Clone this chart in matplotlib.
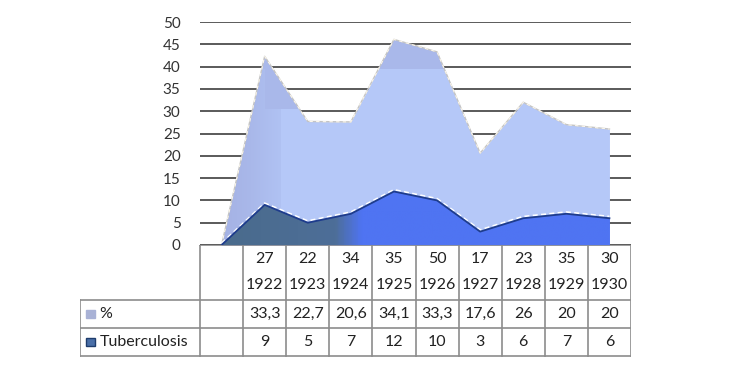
import numpy as np
import matplotlib.pyplot as plt
from matplotlib.colors import LinearSegmentedColormap

plt.rcParams['font.family'] = ['Lato', 'DejaVu Sans']

# categories (first column of the table is empty)
counts = ['', '27', '22', '34', '35', '50', '17', '23', '35', '30']
years = ['', '1922', '1923', '1924', '1925', '1926', '1927', '1928', '1929', '1930']
pct_labels = ['', '33,3', '22,7', '20,6', '34,1', '33,3', '17,6', '26', '20', '20']
tub_labels = ['', '9', '5', '7', '12', '10', '3', '6', '7', '6']
pct = [0, 33.3, 22.7, 20.6, 34.1, 33.3, 17.6, 26, 20, 20]
tub = [0, 9, 5, 7, 12, 10, 3, 6, 7, 6]

W, H = 739, 381
fig = plt.figure(figsize=(W / 100, H / 100), dpi=100)
ax = fig.add_axes([200 / W, (H - 245) / H, 431 / W, 223 / H])

x = np.arange(len(pct))
tub = np.array(tub, float)
top = tub + np.array(pct, float)

# gridlines
for v in range(0, 55, 5):
    ax.axhline(v, color='#4d4d4d', lw=1.3, zorder=0)

# upper series (light blue)
poly_top = ax.fill_between(x, tub, top, color='#b5c8f8', lw=0, zorder=2)
# darker "3D" faces: left ramp and the top bands
path = poly_top.get_paths()[0]
grad = np.linspace(0, 1, 200).reshape(1, -1)
cm_top = LinearSegmentedColormap.from_list('t', ['#a5b2e4', '#a9b8ea', '#b0c2f3'])
im = ax.imshow(grad, extent=[0, 1.35, 0, 50], aspect='auto', cmap=cm_top, zorder=3)
im.set_clip_path(path, transform=ax.transData)
band = ax.fill_between([0, 9], [39.5, 39.5], [50, 50], color='#a9b8ea', lw=0, zorder=3)
band.set_clip_path(path, transform=ax.transData)
band2 = ax.fill_between([1, 2], [30.5, 30.5], [50, 50], color='#a9b8ea', lw=0, zorder=3)
band2.set_clip_path(path, transform=ax.transData)
ax.plot(x, top, color='#c4c4c4', lw=1.0, zorder=4)
ax.plot(x, top, color='#fbf6ea', lw=0.8, ls=(0, (3, 3)), zorder=4)

# lower series (tuberculosis) with slate-to-blue gradient
poly_tub = ax.fill_between(x, 0, tub, color='#4f74f2', lw=0, zorder=5)
cm_tub = LinearSegmentedColormap.from_list(
    'b', [(0, '#4a6b8c'), (0.29, '#4d6e98'), (0.36, '#4f74f2'), (1, '#4f74f2')])
im2 = ax.imshow(grad, extent=[0, 9, 0, 15], aspect='auto', cmap=cm_tub, zorder=6)
im2.set_clip_path(poly_tub.get_paths()[0], transform=ax.transData)
ax.plot(x, tub + 0.4, color='white', lw=1.2, ls=(0, (3, 2)), zorder=7)
ax.plot(x, tub, color='#1e3c8c', lw=1.3, zorder=8)

ax.set_xlim(-0.5, 9.5)
ax.set_ylim(0, 50)
ax.set_yticks(range(0, 55, 5))
ax.tick_params(axis='y', length=0, pad=14, labelsize=11, labelcolor='#333333')
ax.set_xticks([])
for s in ax.spines.values():
    s.set_visible(False)

# data table below the plot
colw = 431 / 10
tx0 = 80
tab = fig.add_axes([tx0 / W, (H - 357) / H, (631 - tx0) / W, 112 / H])
left = -0.5 - (200 - tx0) / colw
tab.set_xlim(left, 9.5)
tab.set_ylim(0, 112)
tab.axis('off')
lc = '#8c8c8c'
y_rows = [112, 57, 29, 1]
# horizontal lines
tab.plot([-0.5, 9.5], [112, 112], color=lc, lw=1.2)
for yy in y_rows[1:]:
    tab.plot([left, 9.5], [yy, yy], color=lc, lw=1.2)
# vertical lines
tab.plot([left, left], [1, 57], color=lc, lw=1.2)
for i in range(11):
    tab.plot([i - 0.5, i - 0.5], [1, 112], color=lc, lw=1.2)

fs = 11.5
tc = '#222222'
for i in range(len(counts)):
    tab.text(i, 98, counts[i], ha='center', va='center', fontsize=fs, color=tc)
    tab.text(i, 72, years[i], ha='center', va='center', fontsize=fs, color=tc)
    tab.text(i, 43, pct_labels[i], ha='center', va='center', fontsize=fs, color=tc)
    tab.text(i, 15, tub_labels[i], ha='center', va='center', fontsize=fs, color=tc)

# legend keys
kx = left + 0.15
tab.add_patch(plt.Rectangle((kx, 39), 0.2, 8, color='#a9b2d6'))
tab.add_patch(plt.Rectangle((kx, 11), 0.2, 8, facecolor='#4a6fa8', edgecolor='#1e3c6c', lw=1))
tab.text(kx + 0.3, 43, '%', ha='left', va='center', fontsize=fs, color=tc)
tab.text(kx + 0.3, 15, 'Tuberculosis', ha='left', va='center', fontsize=fs, color=tc)

fig.savefig('out.png', dpi=100)
